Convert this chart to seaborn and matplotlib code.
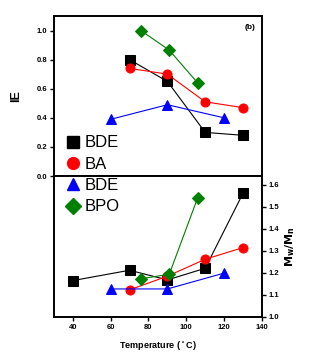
import numpy as np
import pandas as pd
import matplotlib
matplotlib.use("Agg")
import matplotlib.pyplot as plt
import seaborn as sns
from matplotlib.lines import Line2D

# ---- data ----
labels = ["BDE", "BA", "BDE", "BPO"]
colors = ["black", "red", "blue", "green"]
markers = ["s", "o", "^", "D"]

# IE (top panel)
ie_x = [[70, 90, 110, 130], [70, 90, 110, 130], [60, 90, 120], [76, 91, 106]]
ie_y = [[0.80, 0.65, 0.30, 0.28], [0.74, 0.70, 0.51, 0.47], [0.39, 0.49, 0.40], [1.00, 0.865, 0.64]]

# Mw/Mn (bottom panel)
pdi_x = [[40, 70, 90, 110, 130], [70, 90, 110, 130], [60, 90, 120], [76, 91, 106]]
pdi_y = [[1.165, 1.212, 1.168, 1.221, 1.562], [1.123, 1.185, 1.262, 1.315],
         [1.127, 1.127, 1.199], [1.173, 1.194, 1.541]]

sns.set_style("ticks")
plt.rcParams['font.family'] = ['Liberation Sans', 'DejaVu Sans']
for key in ['text.color', 'axes.labelcolor', 'xtick.color', 'ytick.color']:
    plt.rcParams[key] = 'black'

fig = plt.figure(figsize=(3.10, 3.63), dpi=100)
ax1 = fig.add_axes([0.174, 0.515, 0.671, 0.441])
ax2 = fig.add_axes([0.174, 0.127, 0.671, 0.388])

for xs, ys, c, m in zip(ie_x, ie_y, colors, markers):
    sns.lineplot(x=xs, y=ys, ax=ax1, color=c, marker=m, markersize=6.5,
                 markeredgecolor=c, linewidth=0.8, sort=False)
for xs, ys, c, m in zip(pdi_x, pdi_y, colors, markers):
    sns.lineplot(x=xs, y=ys, ax=ax2, color=c, marker=m, markersize=6.5,
                 markeredgecolor=c, linewidth=0.8, sort=False)

tick_font = dict(fontsize=5.5, fontweight='bold')

ax1.set_xlim(30, 140)
ax1.set_ylim(0, 1.1)
ax1.set_yticks([0.0, 0.2, 0.4, 0.6, 0.8, 1.0])
ax1.set_yticklabels(["0.0", "0.2", "0.4", "0.6", "0.8", "1.0"], **tick_font)
ax1.set_xticks([])
ax1.set_ylabel("IE", fontsize=9, fontweight='bold', labelpad=10)
ax1.text(0.97, 0.93, "(b)", transform=ax1.transAxes, ha='right', va='center',
         fontsize=6, fontweight='bold')

ax2.set_xlim(30, 140)
ax2.set_ylim(1.0, 1.64)
ax2.set_xticks([40, 60, 80, 100, 120, 140])
ax2.set_xticklabels(["40", "60", "80", "100", "120", "140"], **tick_font)
ax2.yaxis.tick_right()
ax2.yaxis.set_label_position("right")
ax2.set_yticks([1.0, 1.1, 1.2, 1.3, 1.4, 1.5, 1.6])
ax2.set_yticklabels(["1.0", "1.1", "1.2", "1.3", "1.4", "1.5", "1.6"], **tick_font)
ax2.set_xlabel("Temperature ($^\\circ$C)", fontsize=6.5, fontweight='bold', labelpad=6)
ax2.set_ylabel("$\\mathbf{M_w / M_n}$", fontsize=8, rotation=90, labelpad=3)

for ax in (ax1, ax2):
    for s in ax.spines.values():
        s.set_visible(True)
        s.set_linewidth(1.4)
        s.set_color("black")
    ax.tick_params(width=1.0, length=3, direction='out', pad=2, colors='black')

handles = [Line2D([], [], color=c, marker=m, linestyle='none', markersize=8.5)
           for c, m in zip(colors, markers)]
fig.legend(handles, labels, loc='upper left', bbox_to_anchor=(0.175, 0.65),
           frameon=False, fontsize=12, handletextpad=0.1, labelspacing=0.38,
           handlelength=1.2, borderpad=0, labelcolor='black')

fig.savefig("out.png", dpi=100)
